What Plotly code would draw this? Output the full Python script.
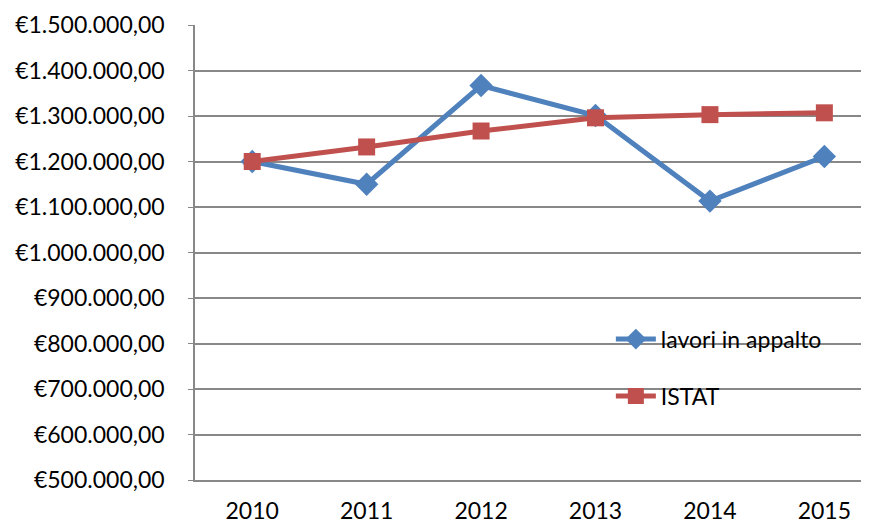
import plotly.graph_objects as go

years = ["2010", "2011", "2012", "2013", "2014", "2015"]
lavori = [1200000, 1150000, 1367000, 1301000, 1113000, 1211000]
istat = [1200000, 1232000, 1267000, 1296000, 1303000, 1307000]
y_ticks = [500000, 600000, 700000, 800000, 900000, 1000000, 1100000, 1200000, 1300000, 1400000, 1500000]


def eur(v):
    s = f"{v:,.2f}"
    s = s.replace(",", "X").replace(".", ",").replace("X", ".")
    return "€" + s


FONT = "Lato"
FS = 23

fig = go.Figure()
fig.add_trace(go.Scatter(
    x=years, y=lavori, name="lavori in appalto", mode="lines+markers",
    legendgroup="a",
    line=dict(color="#4F81BD", width=5),
    marker=dict(symbol="diamond", size=18, color="#4F81BD"),
))
fig.add_trace(go.Scatter(
    x=years, y=istat, name="ISTAT", mode="lines+markers",
    legendgroup="b",
    line=dict(color="#C0504D", width=5),
    marker=dict(symbol="square", size=17, color="#C0504D"),
))

fig.update_layout(
    width=861, height=516,
    margin=dict(l=187, r=0, t=17, b=44),
    paper_bgcolor="white", plot_bgcolor="white",
    font=dict(family=FONT, size=FS, color="black"),
    showlegend=True,
    legend=dict(
        x=0.617, y=0.247, xanchor="left", yanchor="middle",
        bgcolor="rgba(0,0,0,0)", font=dict(size=FS, family=FONT),
        traceorder="grouped", tracegroupgap=24, itemwidth=40,
    ),
)
fig.update_xaxes(
    type="category", range=[-0.5, 5.39], automargin=False,
    showgrid=False, showline=True, linecolor="#888888", linewidth=1.5,
    ticks="", ticklabelstandoff=10, tickfont=dict(size=FS, family=FONT),
    mirror=False, zeroline=False,
)
fig.update_yaxes(
    range=[500000, 1500000], tickvals=y_ticks, ticktext=[eur(v) for v in y_ticks],
    automargin=False,
    showgrid=True, gridcolor="#888888", gridwidth=1.5,
    showline=True, linecolor="#888888", linewidth=1.5,
    ticks="outside", ticklen=5, tickcolor="#888888", ticklabelstandoff=19,
    tickfont=dict(size=FS, family=FONT), zeroline=False,
)

fig.write_html("out.html")
